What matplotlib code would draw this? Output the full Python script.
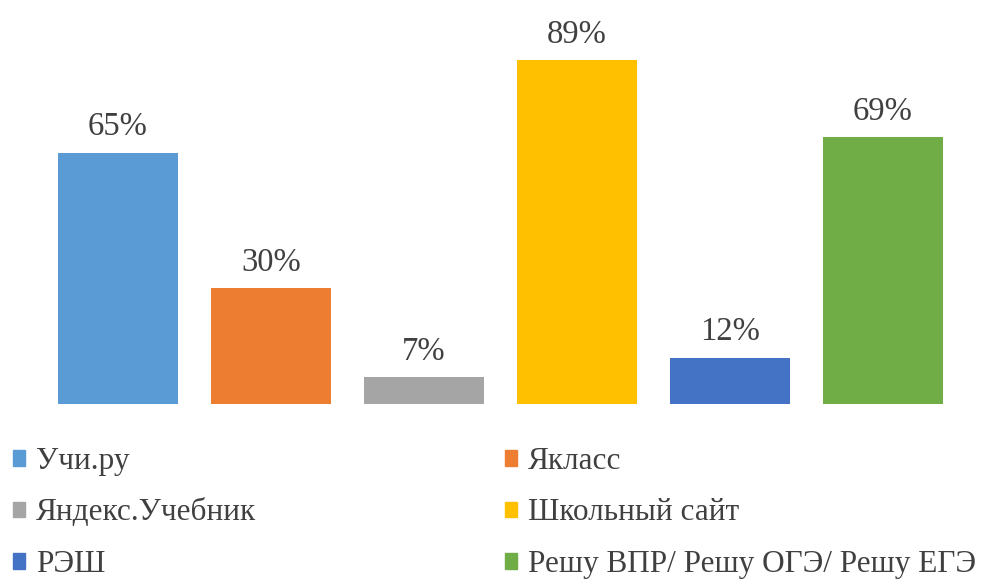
import matplotlib.pyplot as plt
from matplotlib.patches import Patch

# Данные
categories = ['Учи.ру', 'Якласс', 'Яндекс.Учебник', 'Школьный сайт', 'РЭШ',
              'Решу ВПР/ Решу ОГЭ/ Решу ЕГЭ']
values = [65, 30, 7, 89, 12, 69]
colors = ['#5B9BD5', '#ED7D31', '#A5A5A5', '#FFC000', '#4472C4', '#70AD47']

plt.rcParams['font.family'] = ['Liberation Serif', 'DejaVu Serif']
text_color = '#404040'

fig = plt.figure(figsize=(9.86, 5.81), dpi=100)
ax = fig.add_axes([0, 1 - 404 / 581, 1, 344 / 581])

x = list(range(len(values)))
ax.bar(x, values, width=0.78, color=colors)
for xi, v in zip(x, values):
    ax.text(xi, v + 2.7, f'{v}%', ha='center', va='bottom', fontsize=23.5, color=text_color)

ax.set_xlim(-118 / 153, (986 - 118) / 153)
ax.set_ylim(0, 89)
ax.axis('off')

# Легенда: по строкам, два столбца
handles = [Patch(color=c) for c in colors]
order = [0, 2, 4, 1, 3, 5]
fig.legend([handles[i] for i in order], [categories[i] for i in order],
           ncol=2, loc='upper left', bbox_to_anchor=(13 / 986, 1 - 447 / 581),
           frameon=False, fontsize=22.5, labelcolor=text_color,
           handlelength=0.39, handleheight=0.39, handletextpad=0.35,
           columnspacing=7.95, labelspacing=0.72, borderpad=0, borderaxespad=0)

fig.savefig('out.png', dpi=100)
